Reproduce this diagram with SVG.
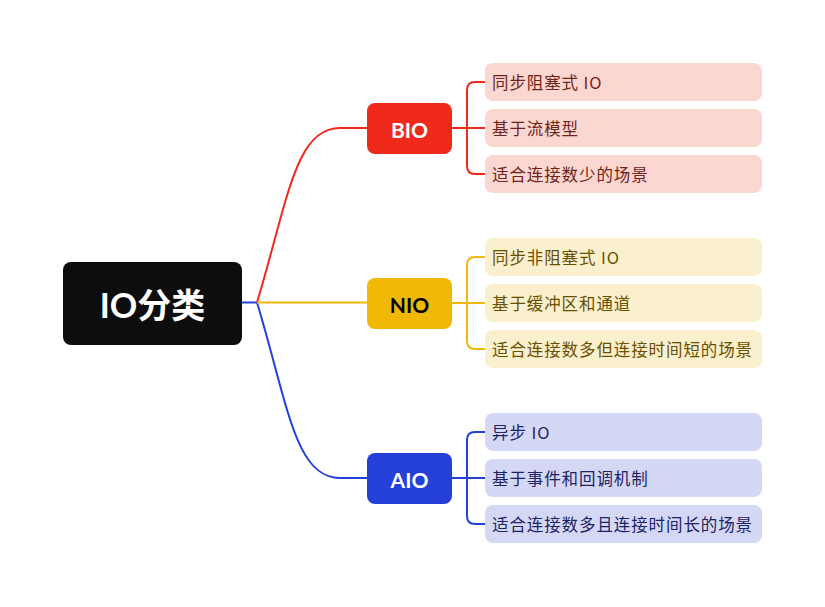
<svg xmlns="http://www.w3.org/2000/svg" width="825" height="607" viewBox="0 0 825 607">
<style>
.c{font-family:"Noto Sans CJK SC",sans-serif;font-size:16.5px;letter-spacing:0.9px;dominant-baseline:central;}
.n{font-family:"Lato","Noto Sans CJK SC",sans-serif;font-size:21px;font-weight:bold;text-anchor:middle;dominant-baseline:central;}
.ln{fill:none;stroke-width:2;}
.r{stroke:#f02a1b}.y{stroke:#f1b808}.b{stroke:#2440d8}
</style>
<rect width="825" height="607" fill="#ffffff"/>
<g id="connectors">
<path class="ln b" d="M242,302.5 H257 C288,405 295,478 340,478 H367"/>
<path class="ln r" d="M257,302.5 C288,200 295,128 340,128 H367"/>
<path class="ln y" d="M257,302.5 H367"/>
<path class="ln r" d="M452,128 H485 M485,82 H475 Q467,82 467,90 V166 Q467,174 475,174 H485"/>
<path class="ln y" d="M452,303 H485 M485,257 H475 Q467,257 467,265 V341 Q467,349 475,349 H485"/>
<path class="ln b" d="M452,478 H485 M485,432 H475 Q467,432 467,440 V516 Q467,524 475,524 H485"/>
</g>
<g id="root">
<rect x="63" y="262" width="179" height="83" rx="8" fill="#0d0d0d"/>
<text x="152.5" y="304" class="n" style="font-size:34px" fill="#ffffff">IO分类</text>
</g>
<g id="bio">
<rect x="367" y="103" width="85" height="51" rx="8" fill="#f02a1b"/>
<text x="409.5" y="129" class="n" fill="#ffffff">BIO</text>
</g>
<g id="nio">
<rect x="367" y="278" width="85" height="51" rx="8" fill="#f1b808"/>
<text x="409.5" y="304" class="n" fill="#000000">NIO</text>
</g>
<g id="aio">
<rect x="367" y="453" width="85" height="51" rx="8" fill="#2440d8"/>
<text x="409.5" y="479" class="n" fill="#ffffff">AIO</text>
</g>
<g id="bio-children" fill="#fcd6d1">
<rect x="485" y="63" width="277" height="38" rx="8"/>
<rect x="485" y="109" width="277" height="38" rx="8"/>
<rect x="485" y="155" width="277" height="38" rx="8"/>
</g>
<g id="bio-texts" fill="#6e2418">
<text class="c" x="492" y="82">同步阻塞式 IO</text>
<text class="c" x="492" y="128">基于流模型</text>
<text class="c" x="492" y="174">适合连接数少的场景</text>
</g>
<g id="nio-children" fill="#fbf0cd">
<rect x="485" y="238" width="277" height="38" rx="8"/>
<rect x="485" y="284" width="277" height="38" rx="8"/>
<rect x="485" y="330" width="277" height="38" rx="8"/>
</g>
<g id="nio-texts" fill="#6a4f00">
<text class="c" x="492" y="257">同步非阻塞式 IO</text>
<text class="c" x="492" y="303">基于缓冲区和通道</text>
<text class="c" x="492" y="349">适合连接数多但连接时间短的场景</text>
</g>
<g id="aio-children" fill="#d4d8f5">
<rect x="485" y="413" width="277" height="38" rx="8"/>
<rect x="485" y="459" width="277" height="38" rx="8"/>
<rect x="485" y="505" width="277" height="38" rx="8"/>
</g>
<g id="aio-texts" fill="#1c2366">
<text class="c" x="492" y="432">异步 IO</text>
<text class="c" x="492" y="478">基于事件和回调机制</text>
<text class="c" x="492" y="524">适合连接数多且连接时间长的场景</text>
</g>
</svg>
